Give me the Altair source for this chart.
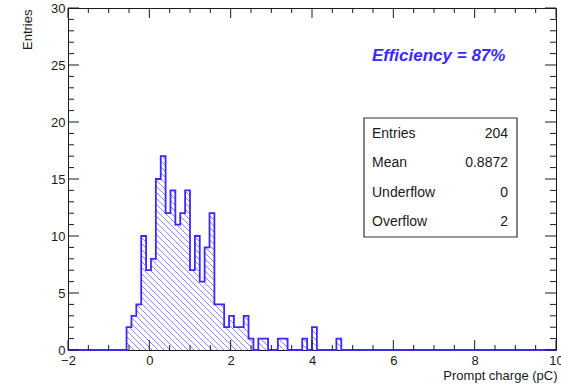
import altair as alt
import numpy as np
import pandas as pd

# ---- histogram definition: 100 bins over [-2, 10] ----
x_min, x_max, n_bins = -2.0, 10.0, 100
y_max = 30

# filled bins (bin index, entries)
bin_index = [12, 13, 14, 15, 16, 17, 18, 19, 20, 21, 22, 23, 24, 25, 26, 27, 28,
             29, 30, 31, 32, 33, 34, 35, 36, 37, 39, 40, 43, 44, 48, 50, 55]
bin_count = [2, 3, 4, 10, 7, 8, 15, 17, 12, 14, 11, 12, 14, 7, 10, 6, 9,
             12, 4, 4, 2, 3, 2, 2, 3, 1, 1, 1, 1, 1, 1, 2, 1]

x_ticks = [-2, 0, 2, 4, 6, 8, 10]
y_ticks = [0, 5, 10, 15, 20, 25, 30]

stat_names = ["Entries", "Mean", "Underflow", "Overflow"]
stat_values = ["204", "0.8872", "0", "2"]
efficiency_pct = 87

# ---- geometry / style ----
W, H = 488, 342
BLUE = "#3b28ff"
FONT = "Liberation Sans"
INK = "#1a1a1a"

bin_w = (x_max - x_min) / n_bins
edges = x_min + bin_w * np.arange(n_bins + 1)
counts = np.zeros(n_bins)
counts[bin_index] = bin_count

# step outline over the whole range (empty bins sit on the baseline)
outline = pd.DataFrame({"x": edges, "y": np.append(counts, counts[-1])})

# diagonal hatching clipped to every filled bin
ax_px = W / (x_max - x_min)
ay_px = H / y_max
spacing = 6.0
segs = []
for k, n in zip(bin_index, bin_count):
    X0 = (edges[k] - x_min) * ax_px
    X1 = (edges[k + 1] - x_min) * ax_px
    Hb = n * ay_px
    c = np.ceil(X0 / spacing) * spacing
    while c < X1 + Hb:
        lo, hi = max(X0, c - Hb), min(X1, c)
        if hi - lo > 0.05:
            segs.append({"x": lo / ax_px + x_min, "y": (c - lo) / ay_px,
                         "x2": hi / ax_px + x_min, "y2": (c - hi) / ay_px})
        c += spacing
hatch_df = pd.DataFrame(segs)

xs = alt.Scale(domain=[x_min, x_max], nice=False, zero=False)
ys = alt.Scale(domain=[0, y_max], nice=False, zero=False)

X_AX = alt.Axis(values=x_ticks, ticks=False, domain=False, grid=False, tickSize=0,
                labelFont=FONT, labelFontSize=13, labelColor=INK, labelPadding=4,
                labelFlush=False, labelOverlap=False,
                title="Prompt charge (pC)", titleFont=FONT, titleFontSize=13,
                titleFontWeight="normal", titleColor=INK, titleAlign="right",
                titleAnchor="end", titleX=W + 1, titleY=29, titleBaseline="alphabetic")
Y_AX = alt.Axis(values=y_ticks, ticks=False, domain=False, grid=False, tickSize=0,
                labelFont=FONT, labelFontSize=13, labelColor=INK, labelPadding=3,
                labelFlush=False, labelOverlap=False,
                title="Entries", titleFont=FONT, titleFontSize=13,
                titleFontWeight="normal", titleColor=INK, titleAngle=270,
                titleAlign="right", titleX=-41, titleY=1, titleBaseline="middle")

hatch = alt.Chart(hatch_df).mark_rule(color=BLUE, strokeWidth=0.9, opacity=0.65).encode(
    x=alt.X("x:Q", scale=xs, axis=X_AX),
    y=alt.Y("y:Q", scale=ys, axis=Y_AX),
    x2="x2:Q", y2="y2:Q")

line = alt.Chart(outline).mark_line(interpolate="step-after", color=BLUE,
                                    strokeWidth=1.8, clip=False).encode(
    x=alt.X("x:Q", scale=xs, axis=X_AX),
    y=alt.Y("y:Q", scale=ys, axis=Y_AX))

# inward axis ticks on all four sides
x_minor = [v for v in np.arange(x_min, x_max + 1e-9, 0.5) if v not in x_ticks]
y_minor = [v for v in range(0, y_max + 1) if v not in y_ticks]
xt_major = pd.DataFrame({"x": x_ticks})
xt_minor = pd.DataFrame({"x": x_minor})
yt_major = pd.DataFrame({"y": y_ticks})
yt_minor = pd.DataFrame({"y": y_minor})

tick_layers = []
for df, ln in [(xt_major, 10), (xt_minor, 5)]:
    base = alt.Chart(df).mark_rule(color=INK, strokeWidth=1)
    tick_layers.append(base.encode(x=alt.X("x:Q", scale=xs, axis=X_AX),
                                   y=alt.value(H), y2=alt.value(H - ln)))
    tick_layers.append(base.encode(x=alt.X("x:Q", scale=xs, axis=X_AX),
                                   y=alt.value(0), y2=alt.value(ln)))
for df, ln in [(yt_major, 11), (yt_minor, 6)]:
    base = alt.Chart(df).mark_rule(color=INK, strokeWidth=1)
    tick_layers.append(base.encode(y=alt.Y("y:Q", scale=ys, axis=Y_AX),
                                   x=alt.value(0), x2=alt.value(ln)))
    tick_layers.append(base.encode(y=alt.Y("y:Q", scale=ys, axis=Y_AX),
                                   x=alt.value(W), x2=alt.value(W - ln)))

# statistics box
one = pd.DataFrame({"k": [0]})
box = alt.Chart(one).mark_rect(fill="white", stroke="#333", strokeWidth=1.2).encode(
    x=alt.value(296), x2=alt.value(449), y=alt.value(110), y2=alt.value(229))

stat_layers = []
for i, (nm, val) in enumerate(zip(stat_names, stat_values)):
    yy = 126 + i * 29.4
    d = pd.DataFrame({"name": [nm], "val": [val]})
    stat_layers.append(alt.Chart(d).mark_text(align="left", baseline="middle", font=FONT,
                                              fontSize=14, color=INK).encode(
        x=alt.value(304), y=alt.value(yy), text="name:N"))
    stat_layers.append(alt.Chart(d).mark_text(align="right", baseline="middle", font=FONT,
                                              fontSize=14, color=INK).encode(
        x=alt.value(440), y=alt.value(yy), text="val:N"))

eff = alt.Chart(pd.DataFrame({"t": [f"Efficiency = {efficiency_pct}%"]})).mark_text(
    align="left", baseline="middle", font=FONT, fontSize=17, fontWeight="bold",
    fontStyle="italic", color=BLUE).encode(x=alt.value(304), y=alt.value(48), text="t:N")

chart = alt.layer(hatch, line, *tick_layers, box, *stat_layers, eff).properties(
    width=W, height=H,
    padding={"left": 68, "top": 8, "right": 5, "bottom": 35},
    autosize=alt.AutoSizeParams(type="none"),
    background="white",
).configure_view(stroke=INK, strokeWidth=1)

chart.save("out.html", embed_options={"renderer": "svg", "actions": False})
